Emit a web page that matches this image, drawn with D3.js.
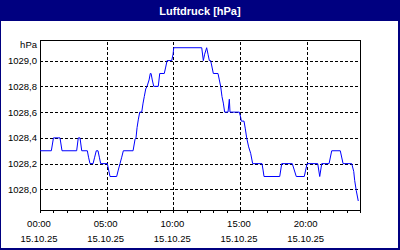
<!DOCTYPE html>
<html>
<head>
<meta charset="utf-8">
<script src="https://cdn.jsdelivr.net/npm/d3@7"></script>
<style>
  body { margin: 0; background: #ffffff; }
  svg { display: block; }
</style>
</head>
<body>
<div id="chart"></div>
<script>
// time of day in hours (15.10.25) and air pressure in hPa
var hours = [0, 0.85, 1.01, 1.5, 1.65, 2.75, 2.87, 3.0, 3.13, 3.55, 3.64, 3.75, 3.98, 4.1, 4.22, 4.35, 4.45, 4.55,
  5.05, 5.15, 5.25, 5.75, 5.87, 6.0, 6.13, 6.25, 6.98, 7.13, 7.2, 7.28, 7.37, 7.48, 7.63, 7.73, 7.82, 7.93,
  8.03, 8.18, 8.27, 8.33, 8.42, 8.53, 8.87, 8.98, 9.32, 9.43, 9.53, 9.88, 9.98, 10.03, 12.13, 12.25, 12.35,
  12.5, 12.6, 12.7, 12.8, 12.9, 13.0, 13.35, 13.45, 13.55, 13.65, 13.75, 13.85, 14.1, 14.2, 14.25, 14.95,
  15.05, 15.1, 15.3, 15.4, 15.5, 15.65, 15.8, 15.95, 16.65, 16.73, 16.8, 17.98, 18.13, 18.92, 19.22, 19.82,
  20.03, 20.83, 20.98, 21.13, 21.68, 21.88, 22.52, 22.73, 23.38, 23.53, 23.6, 23.72, 23.87];
var pressure = [1028.3, 1028.3, 1028.4, 1028.4, 1028.3, 1028.3, 1028.4, 1028.4, 1028.3, 1028.3, 1028.25, 1028.2,
  1028.2, 1028.25, 1028.3, 1028.3, 1028.25, 1028.2, 1028.2, 1028.15, 1028.1, 1028.1, 1028.15, 1028.2, 1028.25,
  1028.3, 1028.3, 1028.39, 1028.4, 1028.48, 1028.54, 1028.6, 1028.6, 1028.67, 1028.72, 1028.78, 1028.8, 1028.85,
  1028.9, 1028.9, 1028.85, 1028.8, 1028.8, 1028.9, 1028.9, 1028.95, 1029.0, 1029.0, 1029.05, 1029.1, 1029.1,
  1029.0, 1029.05, 1029.1, 1029.05, 1029.0, 1029.0, 1028.95, 1028.9, 1028.9, 1028.85, 1028.8, 1028.72, 1028.67,
  1028.6, 1028.6, 1028.7, 1028.6, 1028.6, 1028.56, 1028.53, 1028.53, 1028.47, 1028.4, 1028.33, 1028.28, 1028.2,
  1028.2, 1028.15, 1028.1, 1028.1, 1028.2, 1028.2, 1028.1, 1028.1, 1028.2, 1028.2, 1028.1, 1028.2, 1028.2,
  1028.3, 1028.3, 1028.2, 1028.2, 1028.14, 1028.07, 1027.99, 1027.91];

var yTicks = [1028.0, 1028.2, 1028.4, 1028.6, 1028.8, 1029.0];
var xTicks = [0, 5, 10, 15, 20];
var xTickLabels = ["00:00", "05:00", "10:00", "15:00", "20:00"];
var dateLabel = "15.10.25";

var W = 400, H = 250;
var margin = { top: 40, right: 40, bottom: 40, left: 40 };

var svg = d3.select("#chart").append("svg")
    .attr("width", W)
    .attr("height", H);

// navy frame + title bar
svg.append("rect").attr("width", W).attr("height", H).attr("fill", "#000080");
svg.append("rect")
    .attr("x", 1).attr("y", 21)
    .attr("width", 397).attr("height", 227)
    .attr("fill", "#ffffff");

svg.append("text")
    .attr("x", W / 2).attr("y", 15)
    .attr("text-anchor", "middle")
    .style("font-family", "Liberation Sans, Arial, sans-serif")
    .style("font-size", "11px")
    .style("font-weight", "bold")
    .attr("fill", "#ffffff")
    .text("Luftdruck [hPa]");

var x = d3.scaleLinear().domain([0, 24]).range([margin.left, W - margin.right]);
var y = d3.scaleLinear().domain([1027.84, 1029.16]).range([H - margin.bottom, margin.top]);

var g = svg.append("g");

// dashed grid
g.selectAll(".hgrid").data(yTicks).enter().append("line")
    .attr("class", "hgrid")
    .attr("x1", x(0)).attr("x2", x(24))
    .attr("y1", function(d) { return Math.round(y(d)) + 0.5; })
    .attr("y2", function(d) { return Math.round(y(d)) + 0.5; })
    .attr("stroke", "#000").attr("stroke-dasharray", "3,2")
    .attr("shape-rendering", "crispEdges");

g.selectAll(".vgrid").data(xTicks.slice(1)).enter().append("line")
    .attr("class", "vgrid")
    .attr("y1", y.range()[0]).attr("y2", y.range()[1])
    .attr("x1", function(d) { return Math.round(x(d)) + 0.5; })
    .attr("x2", function(d) { return Math.round(x(d)) + 0.5; })
    .attr("stroke", "#000").attr("stroke-dasharray", "3,2")
    .attr("shape-rendering", "crispEdges");

// hourly ticks under the axis
var xAxis = d3.axisBottom(x)
    .tickValues(d3.range(0, 25))
    .tickSize(3)
    .tickFormat("");
var ax = g.append("g")
    .attr("transform", "translate(0," + y.range()[0] + ")")
    .call(xAxis);
ax.select(".domain").remove();
ax.selectAll("line").attr("shape-rendering", "crispEdges");

// plot frame
g.append("rect")
    .attr("x", x(0) + 0.5).attr("y", y.range()[1] + 0.5)
    .attr("width", x(24) - x(0)).attr("height", y.range()[0] - y.range()[1])
    .attr("fill", "none").attr("stroke", "#000")
    .attr("shape-rendering", "crispEdges");

// pressure line
var pts = hours.map(function(h, i) { return [h, pressure[i]]; });
var line = d3.line()
    .x(function(d) { return x(d[0]); })
    .y(function(d) { return y(d[1]); });

g.append("path")
    .datum(pts)
    .attr("d", line)
    .attr("fill", "none")
    .attr("stroke", "#0000ff")
    .attr("stroke-width", 1);

// labels
var fnt = "Liberation Sans, Arial, sans-serif";
var fmt = function(d) { return d3.format(".1f")(d).replace(".", ","); };

g.selectAll(".ylab").data(yTicks).enter().append("text")
    .attr("x", 37)
    .attr("y", function(d) { return y(d) + 3.5; })
    .attr("text-anchor", "end")
    .style("font-family", fnt).style("font-size", "9.5px")
    .attr("fill", "#000")
    .text(fmt);

g.append("text")
    .attr("x", 37).attr("y", 48)
    .attr("text-anchor", "end")
    .style("font-family", fnt).style("font-size", "9.5px")
    .text("hPa");

g.selectAll(".xlab").data(xTicks).enter().append("text")
    .attr("x", function(d) { return x(d) - 1; })
    .attr("y", 227)
    .attr("text-anchor", "middle")
    .style("font-family", fnt).style("font-size", "9.5px")
    .text(function(d, i) { return xTickLabels[i]; });

g.selectAll(".xdate").data(xTicks).enter().append("text")
    .attr("x", function(d) { return x(d) - 1; })
    .attr("y", 242)
    .attr("text-anchor", "middle")
    .style("font-family", fnt).style("font-size", "9.5px")
    .text(dateLabel);
</script>
</body>
</html>
